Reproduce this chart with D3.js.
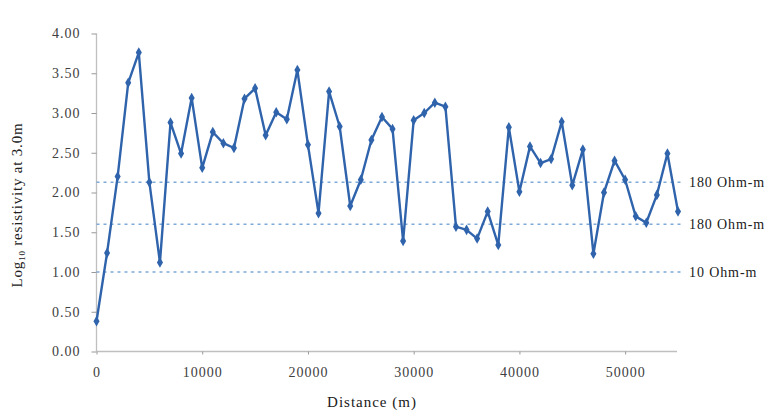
<!DOCTYPE html>
<html><head><meta charset="utf-8">
<script src="https://cdn.jsdelivr.net/npm/d3@7/dist/d3.min.js"></script>
<style>
body{margin:0;background:#fff;}
text{font-family:"Liberation Serif","Times New Roman",serif;}
</style></head>
<body><svg id="c" width="780" height="420"></svg>
<script>
const distances = [0,1000,2000,3000,4000,5000,6000,7000,8000,9000,10000,11000,12000,13000,14000,15000,16000,17000,18000,19000,20000,21000,22000,23000,24000,25000,26000,27000,28000,29000,30000,31000,32000,33000,34000,35000,36000,37000,38000,39000,40000,41000,42000,43000,44000,45000,46000,47000,48000,49000,50000,51000,52000,53000,54000,55000];
const logRes = [0.38,1.24,2.20,3.38,3.76,2.13,1.12,2.88,2.49,3.19,2.31,2.76,2.62,2.56,3.18,3.31,2.72,3.01,2.92,3.54,2.60,1.74,3.27,2.83,1.83,2.16,2.66,2.95,2.80,1.39,2.91,3.00,3.13,3.08,1.57,1.53,1.42,1.76,1.34,2.82,2.01,2.58,2.37,2.42,2.89,2.09,2.54,1.23,2.00,2.40,2.16,1.70,1.62,1.97,2.49,1.76];
const refValues = [2.13, 1.60, 1.00];
const refLabels = ["180 Ohm-m", "180 Ohm-m", "10 Ohm-m"];
const yTicks = [0,0.5,1,1.5,2,2.5,3,3.5,4];
const xTicks = [0,10000,20000,30000,40000,50000];

const svg = d3.select("#c");
const x = d3.scaleLinear().domain([0,55000]).range([96.5,678]);
const y = d3.scaleLinear().domain([0,4]).range([351.5,33.5]);

const axisCol = "#bfbfbf", textCol = "#404040";

// y axis
const ya = svg.append("g").attr("transform","translate(96.5,0)")
  .call(d3.axisLeft(y).tickValues(yTicks).tickFormat(d3.format(".2f")).tickSize(5).tickPadding(11));
// x axis
const xa = svg.append("g").attr("transform","translate(0,351.5)")
  .call(d3.axisBottom(x).tickValues(xTicks).tickFormat(d3.format("d")).tickSize(3).tickPadding(13));
[ya,xa].forEach(g=>{
  g.select(".domain").attr("stroke",axisCol).attr("stroke-width",1.3);
  g.selectAll(".tick line").attr("stroke","#999");
  g.selectAll(".tick text").attr("fill",textCol).style("font-size","14px").style("letter-spacing","1px")
   .style("font-family","'Liberation Serif',serif");
});
xa.select(".domain").attr("d","M96.5,0H677");
ya.select(".domain").attr("d","M0,"+y(4)+"V"+y(0));

// reference lines
svg.append("g").selectAll("line").data(refValues).join("line")
  .attr("x1",96.5).attr("x2",684).attr("y1",d=>y(d)).attr("y2",d=>y(d))
  .attr("stroke","#7fa9d6").attr("stroke-width",1.5).attr("stroke-dasharray","3,4");
svg.append("g").selectAll("text").data(refValues).join("text")
  .attr("x",689).attr("y",d=>y(d)).attr("dy","0.35em")
  .attr("fill","#202020").style("font-size","14px").style("letter-spacing","0.9px")
  .text((d,i)=>refLabels[i]);

// data line
const pts = distances.map((d,i)=>[d,logRes[i]]);
const col = "#2f63ab";
svg.append("path").datum(pts)
  .attr("d",d3.line().x(d=>x(d[0])).y(d=>y(d[1])))
  .attr("fill","none").attr("stroke",col).attr("stroke-width",2.4).attr("stroke-linejoin","round");
svg.append("g").selectAll("path").data(pts).join("path")
  .attr("d",d3.symbol().type(d3.symbolDiamond).size(32))
  .attr("transform",d=>`translate(${x(d[0])},${y(d[1])})`)
  .attr("fill",col);

// axis titles
svg.append("text").attr("x",372).attr("y",407).attr("text-anchor","middle")
  .attr("fill","#202020").style("font-size","15px").style("letter-spacing","1px").text("Distance (m)");
const yt = svg.append("text").attr("transform","translate(22,205) rotate(-90)").attr("text-anchor","middle")
  .attr("fill","#202020").style("font-size","15px").style("letter-spacing","0.8px");
yt.append("tspan").text("Log");
yt.append("tspan").attr("dy",3).style("font-size","9px").text("10");
yt.append("tspan").attr("dy",-3).text(" resistivity at 3.0m");
</script></body></html>
